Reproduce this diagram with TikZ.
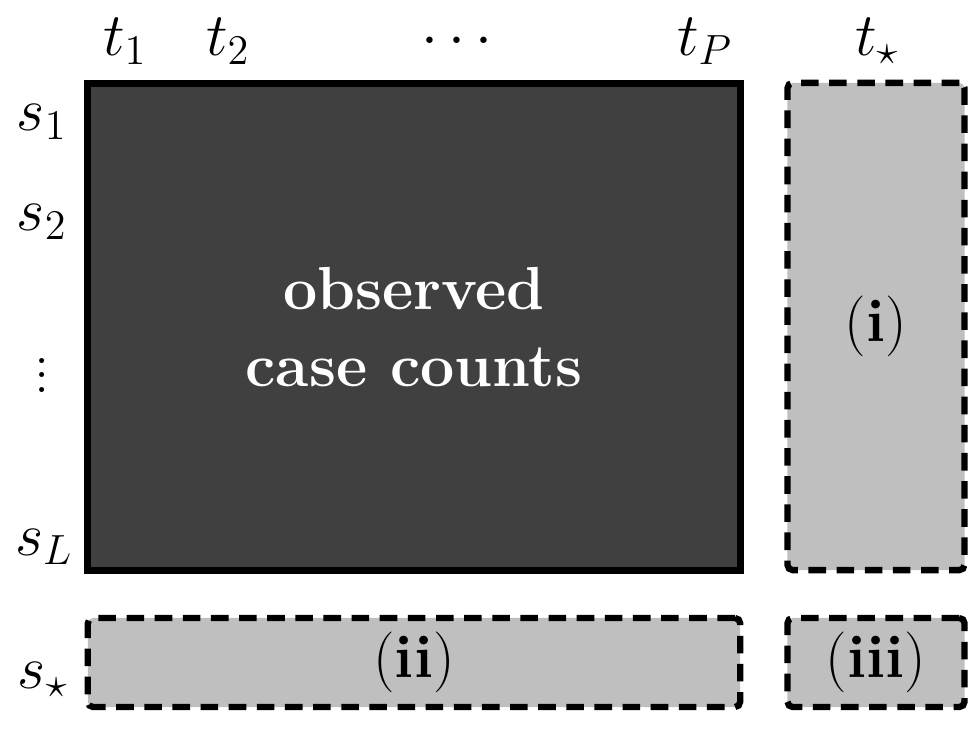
\documentclass[tikz,border=0pt]{standalone}
\usepackage{amsmath,amssymb}
\usepackage{tikz}
\usetikzlibrary{positioning}

\begin{document}
\begin{tikzpicture}[x=0.01cm, y=-0.01cm,
    lbl/.style={anchor=base, font=\LARGE},
    obsbox/.style={draw=black, line width=2pt, fill=black!75, text=white,
      font=\LARGE\bfseries, align=center, inner sep=0pt},
    predbox/.style={draw=black, line width=1.8pt, dash pattern=on 5pt off 3pt,
      fill=black!25, rounded corners=1.5pt, font=\LARGE, inner sep=0pt}]
    \useasboundingbox (0,0) rectangle (969,735);

    % observed block
    \node[obsbox, minimum width=6.52cm, minimum height=4.86cm] (obs) at (414,327)
      {observed\\case counts};

    % blocks to predict
    \node[predbox, minimum width=1.77cm, minimum height=4.87cm] (fut) at (876,326.5) {$(\textbf{i})$};
    \node[predbox, minimum width=6.52cm, minimum height=0.89cm] (new) at (414,662.5) {$(\textbf{ii})$};
    \node[predbox, minimum width=1.77cm, minimum height=0.89cm] (both) at (876,662.5) {$(\textbf{iii})$};

    % time labels
    \node[lbl] (t1) at (125,55) {$t_1$};
    \node[lbl] (t2) at (228,55) {$t_2$};
    \node[lbl] (tdots) at (462,55) {$\cdots$};
    \node[lbl] (tP) at (705,55) {$t_P$};
    \node[lbl] (tstar) at (877,55) {$t_\star$};

    % site labels
    \node[lbl] (s1) at (42,130) {$s_1$};
    \node[lbl] (s2) at (42,230) {$s_2$};
    \node[lbl] (sdots) at (42,392) {$\vdots$};
    \node[lbl] (sL) at (44,555) {$s_L$};
    \node[lbl] (sstar) at (43,688) {$s_\star$};
\end{tikzpicture}
\end{document}
